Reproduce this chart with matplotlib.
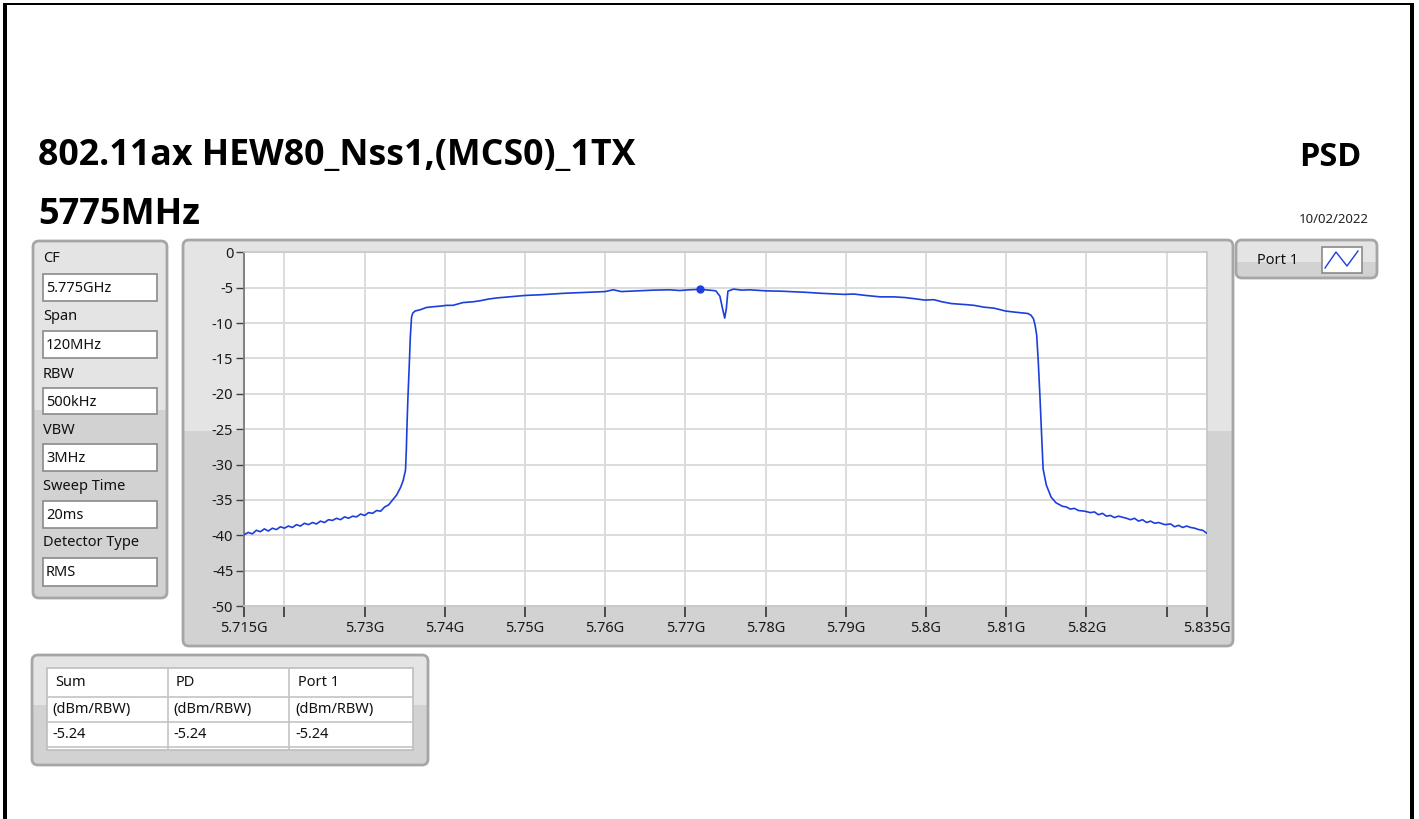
import matplotlib
matplotlib.use('Agg')
import matplotlib.pyplot as plt
from matplotlib.patches import FancyBboxPatch, Rectangle
from matplotlib import font_manager as fm
import os

# ---------------- data ----------------
freq_mhz = [
    5715.0, 5715.5, 5716.0, 5716.5, 5717.0, 5717.5, 5718.0, 5718.5, 5719.0, 5719.5,
    5720.0, 5720.5, 5721.0, 5721.5, 5722.0, 5722.5, 5723.0, 5723.5, 5724.0, 5724.5,
    5725.0, 5725.5, 5726.0, 5726.5, 5727.0, 5727.5, 5728.0, 5728.5, 5729.0, 5729.5,
    5730.0, 5730.5, 5731.0, 5731.5, 5732.0, 5732.5, 5733.0, 5733.5, 5734.0, 5734.5,
    5734.8, 5735.1, 5735.2, 5735.3, 5735.4, 5735.55, 5735.7, 5735.85, 5736.0, 5736.3,
    5737.0, 5737.7, 5738.5, 5739.5, 5740.2, 5741.0, 5742.3, 5743.5, 5744.4, 5745.5,
    5746.5, 5748.0, 5750.0, 5752.0, 5754.8, 5757.0, 5760.0, 5761.0, 5762.0, 5764.0,
    5766.0, 5768.0, 5769.3, 5770.5, 5771.8, 5773.0, 5773.8, 5774.3, 5774.6, 5774.9,
    5775.1, 5775.3, 5776.0, 5777.0, 5778.0, 5780.0, 5782.0, 5784.9, 5787.0, 5789.8,
    5791.0, 5792.5, 5794.3, 5796.0, 5797.4, 5798.5, 5799.8, 5801.0, 5802.0, 5803.2,
    5805.0, 5806.0, 5807.2, 5808.5, 5809.9, 5811.0, 5812.7, 5813.1, 5813.4, 5813.6,
    5813.8, 5814.0, 5814.2, 5814.4, 5814.6, 5815.0, 5815.6, 5816.2, 5817.0, 5817.5,
    5818.0, 5818.5, 5819.0, 5819.8, 5820.5, 5821.0, 5821.5, 5822.0, 5822.5, 5823.0,
    5823.5, 5824.0, 5825.0, 5825.5, 5826.0, 5826.5, 5827.0, 5827.5, 5828.0, 5828.5,
    5829.0, 5829.8, 5830.5, 5831.0, 5831.5, 5832.0, 5832.5, 5833.0, 5833.5, 5834.0,
    5834.5, 5835.0,
]
level_dbm = [
    -39.9, -39.6, -39.8, -39.3, -39.5, -39.1, -39.4, -39.0, -39.2, -38.8,
    -39.0, -38.7, -38.9, -38.5, -38.7, -38.3, -38.5, -38.2, -38.4, -38.0,
    -38.2, -37.8, -37.9, -37.6, -37.8, -37.4, -37.6, -37.3, -37.4, -37.0,
    -37.2, -36.8, -36.9, -36.5, -36.6, -36.0, -35.7, -35.0, -34.3, -33.2,
    -32.3, -30.8, -28.0, -24.0, -20.6, -16.5, -12.0, -9.2, -8.6, -8.3,
    -8.1, -7.8, -7.7, -7.6, -7.5, -7.5, -7.1, -7.0, -6.85, -6.6,
    -6.45, -6.3, -6.1, -6.0, -5.8, -5.7, -5.55, -5.3, -5.55, -5.45,
    -5.35, -5.3, -5.4, -5.3, -5.24, -5.35, -5.45, -6.2, -7.8, -9.3,
    -8.0, -5.5, -5.2, -5.35, -5.3, -5.45, -5.5, -5.65, -5.8, -5.95,
    -5.9, -6.1, -6.3, -6.3, -6.4, -6.55, -6.75, -6.7, -7.0, -7.25,
    -7.4, -7.5, -7.75, -7.9, -8.3, -8.45, -8.65, -8.9, -9.4, -10.3,
    -11.7, -15.5, -20.2, -25.4, -30.6, -32.9, -34.6, -35.4, -35.9, -36.0,
    -36.3, -36.2, -36.5, -36.6, -36.8, -36.7, -37.1, -36.9, -37.3, -37.2,
    -37.5, -37.3, -37.6, -37.8, -37.6, -38.0, -37.8, -38.2, -38.0, -38.3,
    -38.2, -38.5, -38.4, -38.8, -38.6, -38.9, -38.7, -38.9, -39.0, -39.2,
    -39.3, -39.7,
]
marker_freq_mhz = 5771.8
marker_level = -5.24

x_ticks_ghz = [5.715, 5.72, 5.73, 5.74, 5.75, 5.76, 5.77, 5.78, 5.79, 5.80, 5.81, 5.82, 5.83, 5.835]
x_tick_labels = ['5.715G', '', '5.73G', '5.74G', '5.75G', '5.76G', '5.77G', '5.78G',
                 '5.79G', '5.8G', '5.81G', '5.82G', '', '5.835G']
y_ticks = [0, -5, -10, -15, -20, -25, -30, -35, -40, -45, -50]
y_tick_labels = ['0', '-5', '-10', '-15', '-20', '-25', '-30', '-35', '-40', '-45', '-50']

title_text = '802.11ax HEW80_Nss1,(MCS0)_1TX'
subtitle_text = '5775MHz'
right_title = 'PSD'
date_text = '10/02/2022'

param_names = ['CF', 'Span', 'RBW', 'VBW', 'Sweep Time', 'Detector Type']
param_values = ['5.775GHz', '120MHz', '500kHz', '3MHz', '20ms', 'RMS']

table_headers = ['Sum', 'PD', 'Port 1']
table_units = ['(dBm/RBW)', '(dBm/RBW)', '(dBm/RBW)']
table_values = ['-5.24', '-5.24', '-5.24']

legend_label = 'Port 1'

# ---------------- fonts ----------------
FONT = 'Noto Sans'
plt.rcParams['font.family'] = [FONT, 'DejaVu Sans']


def pick_bold():
    for fam in ['Open Sans', 'Noto Sans', 'Lato', 'Roboto', 'DejaVu Sans']:
        try:
            path = fm.findfont(fm.FontProperties(family=fam, weight='bold'), fallback_to_default=False)
        except Exception:
            continue
        name = os.path.basename(path).lower()
        if fam.replace(' ', '').lower() in name.replace(' ', '').replace('-', '').replace('_', '') and 'bold' in name:
            return fam
    return 'DejaVu Sans'


BOLD_FAMILY = pick_bold()

W, H = 1419, 819
fig = plt.figure(figsize=(W / 100, H / 100), dpi=100)
fig.patch.set_facecolor('white')
bg = fig.add_axes([0, 0, 1, 1])
bg.set_xlim(0, W)
bg.set_ylim(H, 0)
bg.axis('off')

LIGHT = '#e4e4e4'
DARK = '#d2d2d2'
EDGE = '#a6a6a6'
TRACE = '#1c3fdc'


def panel(x0, y0, x1, y1, split, r=6):
    base = FancyBboxPatch((x0, y0), x1 - x0, y1 - y0,
                          boxstyle=f"round,pad=0,rounding_size={r}",
                          fc=DARK, ec='none', zorder=1)
    bg.add_patch(base)
    top = Rectangle((x0, y0), x1 - x0, split - y0, fc=LIGHT, ec='none', zorder=1.1)
    bg.add_patch(top)
    top.set_clip_path(base)
    border = FancyBboxPatch((x0, y0), x1 - x0, y1 - y0,
                            boxstyle=f"round,pad=0,rounding_size={r}",
                            fc='none', ec=EDGE, lw=2.0, zorder=1.2)
    bg.add_patch(border)


def fit_text(x, y, s, target_w, size, ha='left'):
    t = bg.text(x, y, s, fontsize=size, fontweight='bold', family=BOLD_FAMILY,
                ha=ha, va='baseline', color='black')
    fig.canvas.draw()
    bb = t.get_window_extent()
    if bb.width > 0:
        t.set_fontsize(size * target_w / bb.width)
    return t


# page borders
bg.add_patch(Rectangle((3, 3), 1411, 2.2, fc='black', ec='none', zorder=5))
bg.add_patch(Rectangle((3, 3), 4.2, H, fc='black', ec='none', zorder=5))
bg.add_patch(Rectangle((1410, 3), 4.2, H, fc='black', ec='none', zorder=5))

# titles
fit_text(38, 165, title_text, 596, 22)
fit_text(38, 224, subtitle_text, 162, 22)
fit_text(1361, 166, right_title, 62, 22, ha='right')
bg.text(1369, 223, date_text, fontsize=9.5, ha='right', va='baseline', color='#222222')

# graph frame
panel(183, 240, 1233, 646, 431)

# parameter panel
panel(33, 241, 167, 598, 410)
label_y = [259, 317, 374, 430, 487, 543]
box_y = [(274, 301), (331, 358), (388, 414), (444, 471), (501, 528), (558, 586)]
for name, val, ly, (b0, b1) in zip(param_names, param_values, label_y, box_y):
    bg.text(43, ly, name, fontsize=10.5, ha='left', va='center', color='#111111', zorder=3)
    bg.add_patch(Rectangle((42.5, b0), 114, b1 - b0, fc='white', ec='#8a8a8a', lw=1.2, zorder=3))
    bg.text(46, (b0 + b1) / 2 + 1, val, fontsize=10.5, ha='left', va='center', color='#111111', zorder=4)

# legend panel
panel(1236, 240, 1377, 278, 262)
bg.text(1257, 260, legend_label, fontsize=10.5, ha='left', va='center', color='#111111', zorder=3)
bg.add_patch(Rectangle((1322, 247), 40, 25.5, fc='white', ec='#8a8a8a', lw=1.2, zorder=3))
bg.plot([1325, 1336, 1347, 1358], [268, 252, 266, 251], color=TRACE, lw=1.0, zorder=4)

# table panel
panel(32, 655, 428, 765, 705)
bg.add_patch(Rectangle((47, 668), 366, 82, fc='white', ec='#bdbdbd', lw=1.2, zorder=3))
for xd in [168, 289]:
    bg.plot([xd, xd], [668, 750], color='#c4c4c4', lw=1.2, zorder=3.5)
for yd in [696.5, 721.5, 746.5]:
    bg.plot([47, 413], [yd, yd], color='#c4c4c4', lw=1.2, zorder=3.5)
col_x = [55, 176, 298]
for cx, h, u, v in zip(col_x, table_headers, table_units, table_values):
    bg.text(cx, 683, h, fontsize=10.5, ha='left', va='center', color='#111111', zorder=4)
    bg.text(cx - 3, 709.5, u, fontsize=10.5, ha='left', va='center', color='#111111', zorder=4)
    bg.text(cx - 3, 734, v, fontsize=10.5, ha='left', va='center', color='#111111', zorder=4)

# ---------------- plot axes ----------------
x0, x1 = 244.3, 1206.7
y0, y1 = 252.3, 606.0
ax = fig.add_axes([x0 / W, 1 - y1 / H, (x1 - x0) / W, (y1 - y0) / H])
ax.set_facecolor('white')
freq_ghz = [f / 1000.0 for f in freq_mhz]
ax.plot(freq_ghz, level_dbm, color=TRACE, lw=1.2, zorder=3)
ax.plot([marker_freq_mhz / 1000.0], [marker_level], 'o', color=TRACE, ms=5, zorder=4)
ax.set_xlim(5.715, 5.835)
ax.set_ylim(-50, 0)
ax.set_xticks(x_ticks_ghz)
ax.set_xticklabels(x_tick_labels)
ax.set_yticks(y_ticks)
ax.set_yticklabels(y_tick_labels)
ax.grid(True, color='#dcdcdc', lw=1.4, zorder=0)
ax.set_axisbelow(True)
for s in ['top', 'right', 'bottom']:
    ax.spines[s].set_color('#c8c8c8')
    ax.spines[s].set_linewidth(1.2)
ax.spines['left'].set_color('#7a7a7a')
ax.spines['left'].set_linewidth(1.3)
ax.tick_params(axis='x', direction='out', length=8, width=1.3, color='#404040',
               pad=3, labelsize=10.5, labelcolor='#1a1a1a')
ax.tick_params(axis='y', direction='out', length=6, width=1.0, color='#404040',
               pad=2, labelsize=10.5, labelcolor='#1a1a1a')

fig.savefig('out.png', dpi=100, facecolor='white')
